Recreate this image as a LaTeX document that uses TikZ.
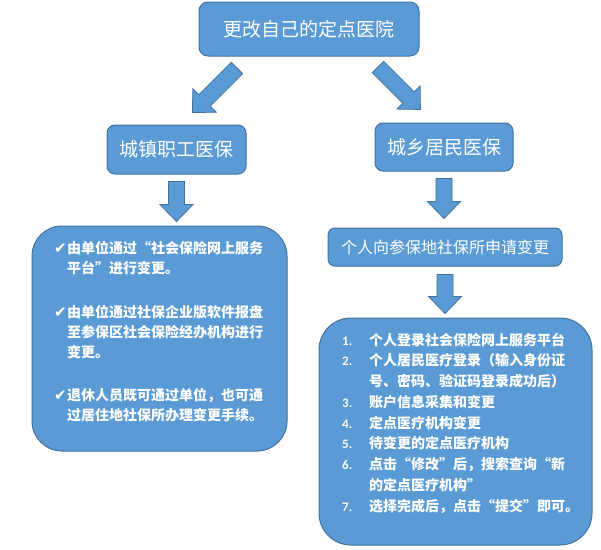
\documentclass[tikz,border=0pt]{standalone}
\usepackage{fontspec}
\usetikzlibrary{calc}
\newfontfamily\cjk{Noto Sans CJK SC}
\newfontfamily\symfont{DejaVu Sans}
\newfontfamily\numfont{Carlito}
\definecolor{boxfill}{HTML}{5B9BD5}
\definecolor{boxline}{HTML}{41719C}
\newcommand\chk{{\symfont\fontsize{15}{15}\selectfont ✔}}
\newcommand\nm[1]{{\numfont\bfseries\fontsize{13}{13}\selectfont #1}}

\begin{document}
\begin{tikzpicture}[
    x=1pt, y=-1pt,
    box/.style={draw=boxline, fill=boxfill, line width=1pt, text=white, rounded corners=#1, inner sep=0pt},
    title/.style={font=\cjk\fontsize{19}{22}\selectfont},
    body/.style={text=white, inner sep=0pt, font=\cjk\bfseries\fontsize{14}{#1}\selectfont},
    pics/barrow/.style={code={
        \draw[draw=boxline, fill=boxfill, line width=0.8pt, line join=miter]
            (0,-8) -- ({#1-17},-8) -- ({#1-17},-16.5) -- (#1,0)
            -- ({#1-17},16.5) -- ({#1-17},8) -- (0,8) -- cycle;
    }}
]
    \useasboundingbox (0,0) rectangle (601,549);

    % Top question
    \node[box=9, title, minimum width=220pt, minimum height=54pt] (top) at (309,29) {更改自己的定点医院};

    % Two kinds of insurance
    \node[box=8, title, minimum width=139pt, minimum height=49pt] (zgyb) at (176.5,149.5) {城镇职工医保};
    \node[box=8, title, minimum width=138pt, minimum height=48pt] (cxjm) at (444,147) {城乡居民医保};

    % Arrows from the top box
    \pic[rotate=-135] at (237,68) {barrow=63};
    \pic[rotate=-45] at (378,67) {barrow=60};

    % Left branch
    \pic[rotate=-90] at ($(zgyb.south)+(0,7)$) {barrow=40};
    \node[box=30, minimum width=255pt, minimum height=225pt] (dwbg) at (159.5,338.5) {};
    \node[body=20, anchor=base west] (dwtxt) at (54,253) {\begin{tabular}[t]{@{}p{13pt}@{}l@{}}
        \chk & 由单位通过“社会保险网上服务\\
             & 平台”进行变更。\\[24pt]
        \chk & 由单位通过社保企业版软件报盘\\
             & 至参保区社会保险经办机构进行\\
             & 变更。\\[23pt]
        \chk & 退休人员既可通过单位，也可通\\
             & 过居住地社保所办理变更手续。
    \end{tabular}};

    % Right branch
    \pic[rotate=-90] at ($(cxjm.south)+(0,7)$) {barrow=40};
    \node[box=7, font=\cjk\fontsize{16}{18}\selectfont, minimum width=234pt, minimum height=38pt] (sqbg) at (445,247) {个人向参保地社保所申请变更};
    \pic[rotate=-90] at ($(sqbg.south)+(0,8)$) {barrow=39};
    \node[box=32, minimum width=273pt, minimum height=227pt] (grbz) at (455.5,431.5) {};
    \node[body=20.75, anchor=base west] (bztxt) at (342,345) {\begin{tabular}[t]{@{}p{27pt}@{}l@{}}
        \nm{1.} & 个人登录社会保险网上服务平台\\
        \nm{2.} & 个人居民医疗登录（输入身份证\\
                & 号、密码、验证码登录成功后）\\
        \nm{3.} & 账户信息采集和变更\\
        \nm{4.} & 定点医疗机构变更\\
        \nm{5.} & 待变更的定点医疗机构\\
        \nm{6.} & 点击“修改”后，搜索查询“新\\
                & 的定点医疗机构”\\
        \nm{7.} & 选择完成后，点击“提交”即可。
    \end{tabular}};

\end{tikzpicture}
\end{document}
